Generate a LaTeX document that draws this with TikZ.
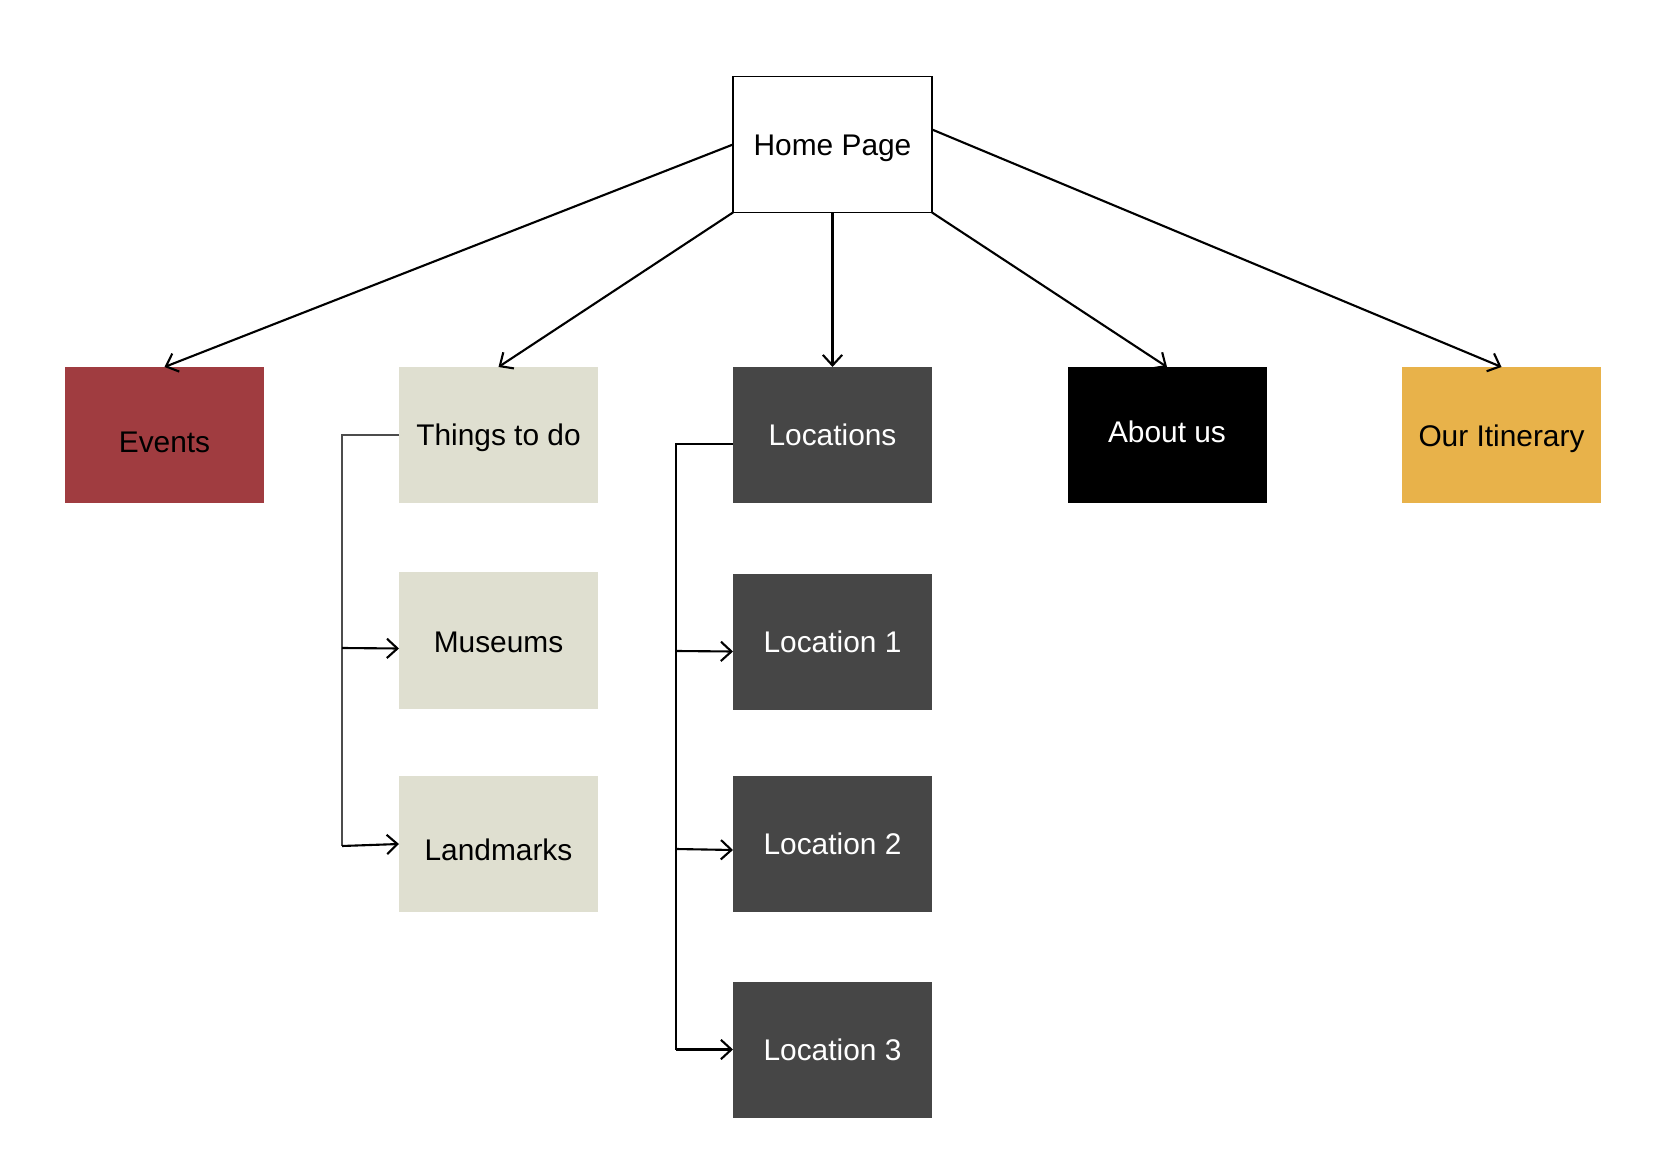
\documentclass[tikz,border=0pt]{standalone}
\usepackage{fontspec}
\setmainfont{Liberation Sans}
\usetikzlibrary{arrows.meta}
\definecolor{eventred}{HTML}{A03C40}
\definecolor{thingsgray}{HTML}{DFDFD0}
\definecolor{locgray}{HTML}{464646}
\definecolor{itinyellow}{HTML}{E8B24A}
\begin{document}
\begin{tikzpicture}[page/.style={minimum width=1.99cm,minimum height=1.36cm,inner sep=0pt,outer sep=0pt,font=\fontsize{8.5}{10}\selectfont},
    link/.style={line width=0.6pt,-{Straight Barb[length=3pt,width=5.5pt]}},
    branch/.style={line width=0.45pt}]
    \useasboundingbox (0,0) rectangle (16.68,11.74);
    \node (hp) [page,draw,line width=0.4pt] at (8.325,10.295) {\raisebox{-0.04cm}[\height][\depth]{Home Page}};
    \node (ev) [page,fill=eventred] at (1.645,7.39) {\raisebox{-0.07cm}[\height][\depth]{Events}};
    \node (td) [page,fill=thingsgray] at (4.985,7.39) {\raisebox{-0.03cm}[\height][\depth]{Things to do}};
    \node (loc) [page,fill=locgray,text=white] at (8.325,7.39) {Locations};
    \node (ab) [page,fill=black,text=white] at (11.67,7.39) {\raisebox{0.03cm}[\height][\depth]{About us}};
    \node (it) [page,fill=itinyellow] at (15.015,7.39) {\raisebox{-0.04cm}[\height][\depth]{Our Itinerary}};
    \node (mu) [page,fill=thingsgray] at (4.985,5.335) {\raisebox{-0.02cm}[\height][\depth]{Museums}};
    \node (lm) [page,fill=thingsgray] at (4.985,3.30) {\raisebox{-0.06cm}[\height][\depth]{Landmarks}};
    \node (l1) [page,fill=locgray,text=white] at (8.325,5.325) {Location 1};
    \node (l2) [page,fill=locgray,text=white] at (8.325,3.30) {Location 2};
    \node (l3) [page,fill=locgray,text=white] at (8.325,1.245) {Location 3};
    \coordinate (tdend) at (3.42,3.28);
    \coordinate (locend) at (6.76,1.245);
    \draw[link] (hp.west) -- (ev.north);
    \draw[link] (hp.south west) -- (td.north);
    \draw[link] (hp.south) -- (loc.north);
    \draw[link] (hp.south east) -- (ab.north);
    \draw[link] ([yshift=0.15cm]hp.east) -- (it.north);
    \draw[branch,black!70] (td.west) -| (tdend);
    \draw[link] (3.42,5.26) -- ([yshift=-0.08cm]mu.west);
    \draw[link] (tdend) -- (lm.west);
    \draw[branch] ([yshift=-0.09cm]loc.west) -| (locend);
    \draw[link] (6.76,5.23) -- ([yshift=-0.1cm]l1.west);
    \draw[link] (6.76,3.25) -- ([yshift=-0.06cm]l2.west);
    \draw[link] (locend) -- (l3.west);
\end{tikzpicture}
\end{document}
